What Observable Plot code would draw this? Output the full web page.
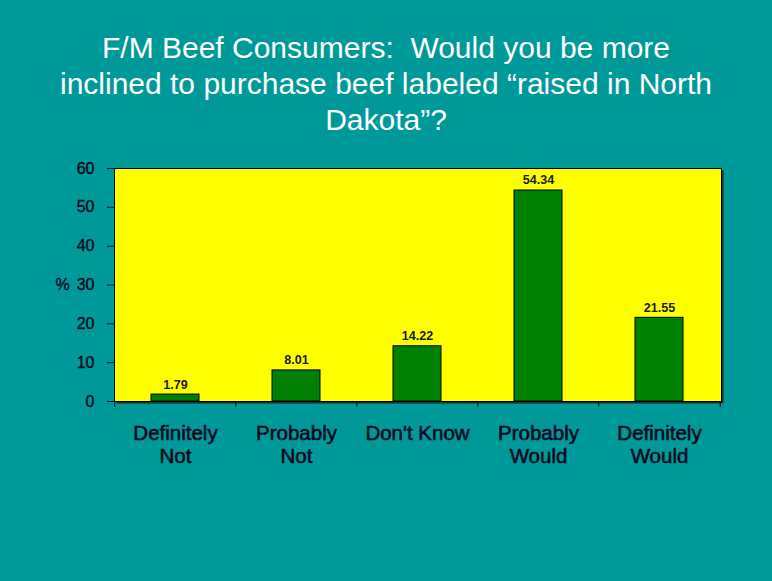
<!DOCTYPE html>
<html>
<head>
<meta charset="utf-8">
<script src="https://cdn.jsdelivr.net/npm/d3@7"></script>
<script src="https://cdn.jsdelivr.net/npm/@observablehq/plot@0.6"></script>
<style>
  html, body { margin: 0; padding: 0; background: #009999; }
  #wrap { width: 772px; height: 581px; background: #009999; overflow: hidden; position: relative; }
  #title { height: 150px; box-sizing: border-box; padding-top: 30px; text-align: center;
           color: #ffffff; font-family: "Liberation Sans", Arial, sans-serif; font-size: 30px; line-height: 36px; }
  svg { display: block; }
</style>
</head>
<body>
<div id="wrap">
  <div id="title">F/M Beef Consumers:&nbsp; Would you be more<br>inclined to purchase beef labeled “raised in North<br>Dakota”?</div>
  <div id="chart"></div>
</div>
<script>
const categories = ["Definitely Not", "Probably Not", "Don't Know", "Probably Would", "Definitely Would"];
const tickLabels = ["Definitely\nNot", "Probably\nNot", "Don't Know", "Probably\nWould", "Definitely\nWould"];
const values = [1.79, 8.01, 14.22, 54.34, 21.55];
const yTicks = [0, 10, 20, 30, 40, 50, 60];
const yLabel = "%";

const data = categories.map((c, i) => ({category: c, value: values[i]}));

const W = 772, H = 431, ML = 114, MR = 51, MT = 18, MB = 180;
const step = (W - ML - MR) / categories.length;
const font = "'Liberation Sans', Arial, sans-serif";
const ink = "#0a0a1e";

const chart = Plot.plot({
  width: W,
  height: H,
  marginLeft: ML,
  marginRight: MR,
  marginTop: MT,
  marginBottom: MB,
  style: {background: "transparent", fontFamily: font, color: ink},
  x: {domain: categories, paddingInner: 0.6, paddingOuter: 0.3},
  y: {domain: [0, 60]},
  marks: [
    Plot.frame({fill: "#2a2a2a", dx: 2, dy: 2}),
    Plot.frame({fill: "#ffff00", stroke: "#000000", strokeWidth: 1}),
    Plot.barY(data, {x: "category", y: "value", fill: "#008000", stroke: "#000000", strokeWidth: 1}),
    Plot.text(data, {x: "category", y: "value", text: d => d.value.toFixed(2), dy: -6, lineAnchor: "bottom",
      fontWeight: "bold", fontSize: 12.5, fill: "#1a1a1a"}),
    Plot.axisY({ticks: yTicks, tickSize: 7, tickPadding: 13, fontSize: 16, label: null, tickFormat: d => String(d)}),
    Plot.text([yLabel], {frameAnchor: "left", dx: -52, fontSize: 16, fill: ink, stroke: ink, strokeWidth: 0.4, textAnchor: "middle"}),
    Plot.axisX({tickSize: 6, tickFormat: () => "", dx: -step / 2, label: null}),
    Plot.axisX({ticks: [categories[categories.length - 1]], tickSize: 6, tickFormat: () => "", dx: step / 2, label: null}),
    Plot.axisX({tickSize: 0, tickPadding: 22, fontSize: 20.5, lineHeight: 1.12, label: null,
      tickFormat: (d) => tickLabels[categories.indexOf(d)]})
  ]
});
// thicken axis label strokes to mimic the heavier rendering of the original
d3.select(chart).selectAll("g[aria-label='x-axis tick label'] text")
  .attr("stroke", ink).attr("stroke-width", 0.6);
d3.select(chart).selectAll("g[aria-label='y-axis tick label'] text")
  .attr("stroke", ink).attr("stroke-width", 0.4);
document.getElementById("chart").appendChild(chart);
</script>
</body>
</html>
